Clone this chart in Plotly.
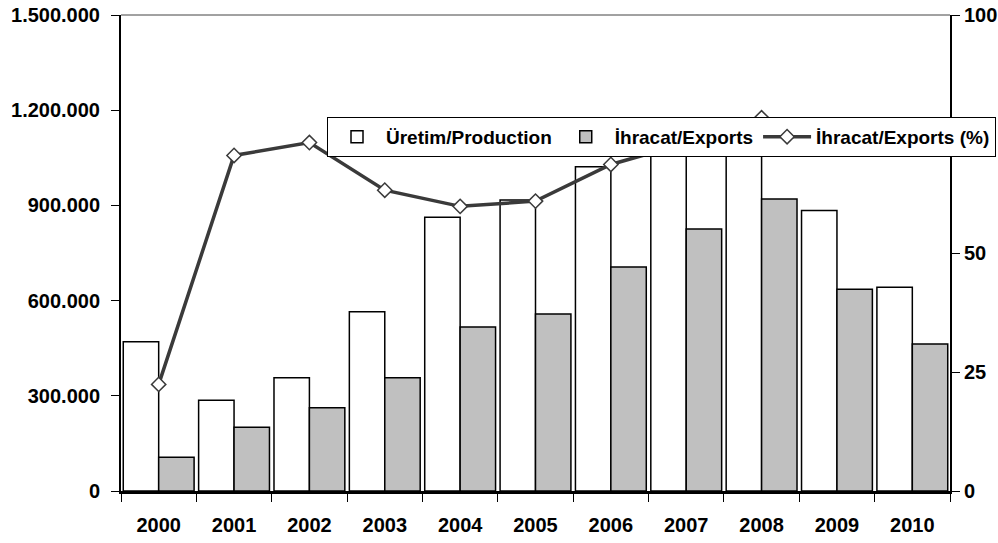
import plotly.graph_objects as go

years = ["2000", "2001", "2002", "2003", "2004", "2005",
         "2006", "2007", "2008", "2009", "2010"]
# Üretim (production) and İhracat (exports), units
production = [470000, 286000, 357000, 565000, 863000, 917000,
              1022000, 1130000, 1165000, 884000, 642000]
exports = [106000, 201000, 262000, 357000, 517000, 558000,
           706000, 826000, 920000, 636000, 463000]
# exports share of production (%)
export_pct = [22.4, 70.5, 73.2, 63.2, 59.8, 60.9,
              68.6, 73.1, 78.4, 71.9, 72.0]
# sağ eksen: 75 etiketi lejant altında kalıyor
pct_ticks = [0, 25, 50, 75, 100]
pct_labels = ["0", "25", "50", "", "100"]

fnt = dict(family="Liberation Sans, Arial, sans-serif", size=20,
           color="black", weight="bold")

fig = go.Figure()

# üretim barları
fig.add_trace(go.Bar(
    x=years, y=production, name="Üretim/Production",
    marker=dict(color="white", line=dict(color="black", width=1.5)),
))

# ihracat barları
fig.add_trace(go.Bar(
    x=years, y=exports, name="İhracat/Exports",
    marker=dict(color="#c0c0c0", line=dict(color="black", width=1.5)),
))

# ihracat oranı çizgisi (sağ eksen)
fig.add_trace(go.Scatter(
    x=years, y=export_pct, name="İhracat/Exports (%)",
    yaxis="y2", mode="lines+markers",
    line=dict(color="#3a3a3a", width=3.5),
    marker=dict(symbol="diamond", size=11, color="white",
                line=dict(color="#3a3a3a", width=1.5)),
))

fig.update_layout(
    width=998, height=543,
    margin=dict(l=121, r=48, t=15, b=52, autoexpand=False),
    paper_bgcolor="white", plot_bgcolor="white",
    font=fnt,
    separators=",.",
    barmode="group", bargap=0.06, bargroupgap=0,
    showlegend=True,
    legend=dict(
        orientation="h",
        x=0.2485, y=0.786, xanchor="left", yanchor="top",
        bgcolor="white", bordercolor="black", borderwidth=1,
        font=dict(family="Liberation Sans, Arial, sans-serif", size=19,
                  color="black", weight="bold"),
        traceorder="normal",
        itemwidth=48,
        tracegroupgap=0,
    ),
    xaxis=dict(
        type="category", range=[-0.5, len(years) - 0.5],
        automargin=False,
        showline=True, linecolor="black", linewidth=2.5,
        ticks="outside", tickson="boundaries", ticklen=8,
        tickcolor="black", tickwidth=1, ticklabelstandoff=14,
        showgrid=False, tickfont=fnt,
    ),
    yaxis=dict(
        range=[0, 1500000], dtick=300000, tickformat=",d",
        automargin=False,
        showline=True, linecolor="black", linewidth=2,
        ticks="outside", ticklen=8, tickcolor="black", tickwidth=1,
        ticklabelstandoff=7,
        showgrid=False, zeroline=False, tickfont=fnt,
    ),
    yaxis2=dict(
        range=[0, 100], tickvals=pct_ticks, ticktext=pct_labels,
        overlaying="y", side="right",
        automargin=False,
        showline=True, linecolor="black", linewidth=2,
        ticks="outside", ticklen=8, tickcolor="black", tickwidth=1,
        showgrid=False, zeroline=False, tickfont=fnt,
    ),
    shapes=[dict(type="line", xref="paper", yref="paper",
                 x0=0, x1=1, y0=1, y1=1,
                 line=dict(color="#444444", width=1))],
)

# sayfa kenar boşluğunu sıfırla
fig.write_html("out.html", config={"displayModeBar": False},
               post_script="document.body.style.margin='0';")
